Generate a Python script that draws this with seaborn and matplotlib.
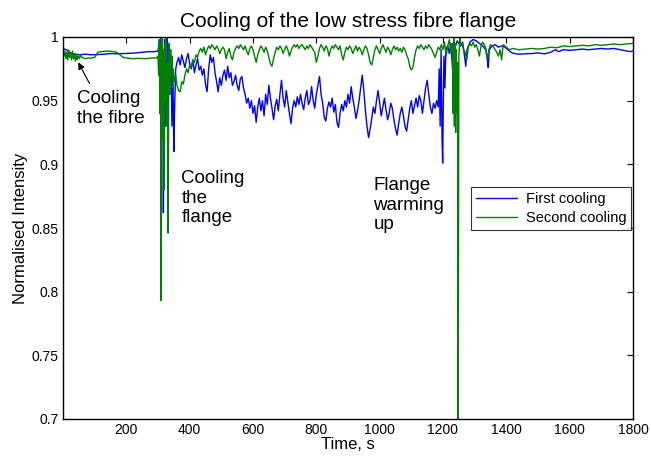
import numpy as np
import pandas as pd
import matplotlib
matplotlib.use("Agg")
import matplotlib.pyplot as plt
import seaborn as sns

# ---------------- data: (time s, normalised intensity) ----------------
first_cooling = [
    (0, 0.991), (10, 0.990), (20, 0.988), (30, 0.987), (50, 0.986), (70, 0.9865), (90, 0.986),
    (110, 0.9862), (130, 0.9865), (150, 0.987), (170, 0.9868), (190, 0.987), (210, 0.9872),
    (230, 0.9875), (250, 0.988), (270, 0.9885), (290, 0.9885), (300, 0.989),
    (303, 0.995), (306, 0.975), (309, 0.999), (312, 0.950), (315, 0.990), (317, 0.862), (319, 0.970),
    (321, 0.998), (323, 0.930), (325, 0.990), (327, 0.960), (329, 0.999), (332, 0.975), (335, 0.995),
    (338, 0.960), (341, 0.985), (344, 0.930), (347, 0.975), (350, 0.910), (352, 0.940), (356, 0.975),
    (360, 0.980), (365, 0.984), (370, 0.978), (375, 0.986), (380, 0.981), (385, 0.976), (390, 0.983),
    (395, 0.987), (400, 0.979), (405, 0.975), (410, 0.982), (415, 0.972), (420, 0.978), (425, 0.983),
    (430, 0.974), (435, 0.977), (440, 0.970), (445, 0.975), (450, 0.963), (455, 0.957),
    (460, 0.975), (465, 0.986), (470, 0.980), (475, 0.984), (480, 0.972), (485, 0.965), (490, 0.957),
    (495, 0.968), (500, 0.962), (505, 0.970), (510, 0.974), (515, 0.966), (520, 0.977), (525, 0.968),
    (530, 0.972), (535, 0.962), (540, 0.965), (545, 0.970), (550, 0.962), (555, 0.958),
    (560, 0.967), (565, 0.969), (570, 0.960), (575, 0.955), (580, 0.948), (585, 0.952), (590, 0.944),
    (595, 0.950), (600, 0.940), (605, 0.946), (610, 0.933), (615, 0.945), (620, 0.952), (625, 0.942),
    (630, 0.950), (635, 0.938), (640, 0.955), (645, 0.947), (650, 0.962), (655, 0.952),
    (660, 0.944), (665, 0.935), (670, 0.946), (675, 0.951), (680, 0.942), (685, 0.955), (690, 0.966),
    (695, 0.952), (700, 0.945), (705, 0.958), (710, 0.949), (715, 0.940), (720, 0.932), (725, 0.944),
    (730, 0.950), (735, 0.945), (740, 0.953), (745, 0.947), (750, 0.955), (755, 0.948),
    (760, 0.943), (765, 0.952), (770, 0.958), (775, 0.947), (780, 0.950), (785, 0.961), (790, 0.950),
    (795, 0.944), (800, 0.955), (805, 0.962), (810, 0.969), (815, 0.955), (820, 0.948), (825, 0.937),
    (830, 0.934), (835, 0.944), (840, 0.949), (845, 0.945), (850, 0.952), (855, 0.941),
    (860, 0.947), (865, 0.933), (870, 0.929), (875, 0.940), (880, 0.947), (885, 0.942), (890, 0.950),
    (895, 0.945), (900, 0.955), (905, 0.948), (910, 0.961), (915, 0.952), (920, 0.945), (925, 0.936),
    (930, 0.942), (935, 0.950), (940, 0.960), (945, 0.970), (950, 0.958), (955, 0.942),
    (960, 0.930), (965, 0.921), (970, 0.928), (975, 0.936), (980, 0.945), (985, 0.940), (990, 0.950),
    (995, 0.958), (1000, 0.948), (1005, 0.938), (1010, 0.945), (1015, 0.952), (1020, 0.943),
    (1025, 0.935), (1030, 0.940), (1035, 0.948), (1040, 0.944), (1045, 0.935),
    (1050, 0.928), (1055, 0.923), (1060, 0.932), (1065, 0.940), (1070, 0.945), (1075, 0.938),
    (1080, 0.930), (1085, 0.926), (1090, 0.935), (1095, 0.944), (1100, 0.950), (1105, 0.940),
    (1110, 0.946), (1115, 0.952), (1120, 0.945), (1125, 0.954), (1130, 0.950),
    (1135, 0.940), (1140, 0.950), (1145, 0.960), (1150, 0.966), (1155, 0.955), (1160, 0.945),
    (1165, 0.940), (1170, 0.948), (1175, 0.944), (1180, 0.950), (1185, 0.945), (1188, 0.975),
    (1191, 0.930), (1194, 0.990), (1197, 0.920), (1199, 0.901), (1201, 0.950),
    (1203, 0.985), (1206, 0.960), (1209, 0.990), (1215, 0.993), (1220, 0.987), (1225, 0.995),
    (1230, 0.975), (1233, 0.969), (1236, 0.990), (1245, 0.997), (1255, 0.993), (1262, 0.996),
    (1268, 0.985), (1272, 0.977), (1276, 0.990), (1285, 0.996), (1295, 0.998),
    (1305, 0.997), (1315, 0.995), (1325, 0.993), (1335, 0.990), (1340, 0.982), (1343, 0.976),
    (1346, 0.990), (1355, 0.993), (1365, 0.994), (1375, 0.992), (1385, 0.993), (1395, 0.992),
    (1405, 0.990), (1415, 0.988), (1425, 0.987), (1440, 0.9865), (1460, 0.9868),
    (1480, 0.987), (1500, 0.9875), (1520, 0.9868), (1540, 0.988), (1555, 0.990), (1565, 0.9885),
    (1580, 0.990), (1600, 0.9895), (1620, 0.990), (1640, 0.9905), (1660, 0.990), (1680, 0.9905),
    (1700, 0.991), (1720, 0.9905), (1740, 0.991), (1760, 0.990), (1780, 0.989),
    (1790, 0.9885), (1800, 0.989),
]

second_cooling = [
    (0, 0.990), (3, 0.985), (6, 0.989), (9, 0.983), (12, 0.988), (15, 0.982), (18, 0.990),
    (21, 0.984), (24, 0.988), (27, 0.982), (30, 0.989), (33, 0.983), (36, 0.987), (39, 0.981),
    (42, 0.986), (45, 0.982), (48, 0.985), (52, 0.983), (56, 0.986), (60, 0.984),
    (70, 0.983), (80, 0.9835), (90, 0.9835), (100, 0.984), (105, 0.986), (110, 0.988), (120, 0.9885),
    (140, 0.989), (160, 0.9885), (170, 0.988), (180, 0.986), (190, 0.984), (200, 0.9835),
    (220, 0.983), (240, 0.9832), (260, 0.983), (280, 0.9835), (295, 0.9835),
    (300, 0.985), (302, 0.970), (304, 0.998), (306, 0.940), (308, 0.995), (310, 0.793), (312, 0.970),
    (314, 1.000), (316, 0.920), (318, 0.990), (320, 0.880), (322, 0.995), (324, 0.950), (326, 0.999),
    (328, 0.930), (330, 0.980), (332, 0.846), (334, 0.970), (336, 0.995), (338, 0.955),
    (340, 0.990), (342, 0.970), (344, 0.985), (346, 0.960), (348, 0.975), (352, 0.965), (356, 0.970),
    (360, 0.962), (365, 0.958), (370, 0.957), (375, 0.965), (380, 0.963), (385, 0.970), (390, 0.975),
    (395, 0.972), (400, 0.978), (405, 0.976), (410, 0.982), (415, 0.980), (420, 0.986), (425, 0.984),
    (430, 0.989), (435, 0.991), (440, 0.988), (445, 0.992), (450, 0.986), (455, 0.990),
    (460, 0.993), (465, 0.991), (470, 0.994), (475, 0.992), (480, 0.990), (485, 0.993), (490, 0.991),
    (495, 0.987), (500, 0.990), (505, 0.992), (510, 0.990), (515, 0.983), (520, 0.988), (525, 0.991),
    (530, 0.985), (535, 0.982), (540, 0.988), (545, 0.991), (550, 0.993), (555, 0.991),
    (560, 0.994), (565, 0.992), (570, 0.990), (575, 0.993), (580, 0.989), (585, 0.986), (590, 0.991),
    (595, 0.993), (600, 0.990), (605, 0.985), (610, 0.980), (615, 0.986), (620, 0.990), (625, 0.993),
    (630, 0.991), (635, 0.988), (640, 0.992), (645, 0.989), (650, 0.984), (655, 0.979),
    (660, 0.977), (665, 0.983), (670, 0.988), (675, 0.992), (680, 0.990), (685, 0.993), (690, 0.991),
    (695, 0.987), (700, 0.990), (705, 0.993), (710, 0.990), (715, 0.985), (720, 0.989), (725, 0.992),
    (730, 0.994), (735, 0.992), (740, 0.994), (745, 0.991), (750, 0.993), (755, 0.994),
    (760, 0.992), (765, 0.990), (770, 0.993), (775, 0.991), (780, 0.994), (785, 0.992), (790, 0.990),
    (795, 0.988), (800, 0.980), (805, 0.985), (810, 0.991), (815, 0.994), (820, 0.992), (825, 0.989),
    (830, 0.993), (835, 0.991), (840, 0.985), (845, 0.990), (850, 0.993), (855, 0.991),
    (860, 0.994), (865, 0.992), (870, 0.990), (875, 0.993), (880, 0.986), (885, 0.982), (890, 0.988),
    (895, 0.992), (900, 0.990), (905, 0.993), (910, 0.991), (915, 0.987), (920, 0.990), (925, 0.993),
    (930, 0.989), (935, 0.992), (940, 0.990), (945, 0.986), (950, 0.990), (955, 0.993),
    (960, 0.991), (965, 0.986), (970, 0.980), (975, 0.978), (980, 0.984), (985, 0.990), (990, 0.993),
    (995, 0.990), (1000, 0.987), (1005, 0.991), (1010, 0.994), (1015, 0.991), (1020, 0.988),
    (1025, 0.992), (1030, 0.990), (1035, 0.986), (1040, 0.990), (1045, 0.993),
    (1050, 0.990), (1055, 0.992), (1060, 0.989), (1065, 0.991), (1070, 0.988), (1075, 0.992),
    (1080, 0.990), (1085, 0.986), (1090, 0.983), (1095, 0.977), (1100, 0.974), (1105, 0.976),
    (1110, 0.984), (1115, 0.990), (1120, 0.993), (1125, 0.991), (1130, 0.994),
    (1135, 0.992), (1140, 0.990), (1145, 0.993), (1150, 0.991), (1155, 0.994), (1160, 0.992),
    (1165, 0.990), (1170, 0.987), (1175, 0.984), (1180, 0.988), (1185, 0.992), (1190, 0.990),
    (1195, 0.994), (1200, 0.990), (1205, 0.996), (1210, 0.985), (1215, 0.993),
    (1220, 0.998), (1225, 0.988), (1230, 0.995), (1232, 0.940), (1234, 0.999), (1236, 0.930),
    (1238, 0.995), (1240, 0.925), (1242, 0.990), (1244, 0.940), (1246, 0.980), (1248, 0.690),
    (1250, 0.985), (1253, 0.999), (1256, 0.993), (1260, 0.995), (1265, 0.990),
    (1270, 0.988), (1275, 0.982), (1280, 0.992), (1285, 0.995), (1290, 0.993), (1295, 0.996),
    (1300, 0.992), (1305, 0.994), (1310, 0.990), (1315, 0.985), (1320, 0.993), (1325, 0.996),
    (1330, 0.994), (1335, 0.991), (1340, 0.983), (1345, 0.990), (1350, 0.994),
    (1360, 0.992), (1370, 0.988), (1375, 0.985), (1380, 0.990), (1385, 0.982), (1390, 0.994),
    (1400, 0.992), (1410, 0.990), (1420, 0.991), (1440, 0.990), (1460, 0.9905), (1480, 0.991),
    (1500, 0.9905), (1520, 0.991), (1540, 0.992), (1560, 0.9915), (1580, 0.993),
    (1600, 0.9925), (1620, 0.993), (1640, 0.9935), (1660, 0.993), (1680, 0.994), (1700, 0.9935),
    (1720, 0.994), (1740, 0.9945), (1760, 0.994), (1780, 0.9945), (1800, 0.995),
]

series_names = ["First cooling", "Second cooling"]
series_colors = ["#0000ff", "#008000"]
x_ticks = [200, 400, 600, 800, 1000, 1200, 1400, 1600, 1800]
y_ticks = [0.7, 0.75, 0.8, 0.85, 0.9, 0.95, 1.0]
y_tick_labels = ["0.7", "0.75", "0.8", "0.85", "0.9", "0.95", "1"]

# ---------------- figure ----------------
sns.set_style("white")
plt.rcParams["font.family"] = ["Liberation Sans", "DejaVu Sans"]
plt.rcParams["text.color"] = "black"
plt.rcParams["axes.labelcolor"] = "black"
plt.rcParams["xtick.color"] = "black"
plt.rcParams["ytick.color"] = "black"

frames = []
for name, pts in zip(series_names, [first_cooling, second_cooling]):
    t, v = zip(*pts)
    frames.append(pd.DataFrame({"t": t, "v": v, "series": name}))
df = pd.concat(frames, ignore_index=True)

fig = plt.figure(figsize=(6.51, 4.57), dpi=100)
ax = fig.add_axes([63 / 651, 38 / 457, 570 / 651, 382 / 457])

sns.lineplot(data=df, x="t", y="v", hue="series", palette=series_colors, estimator=None,
             sort=False, linewidth=1.0, ax=ax, legend=False)

ax.set_xlim(0, 1800)
ax.set_ylim(0.7, 1.0)
ax.set_xticks(x_ticks)
ax.set_xticklabels([str(x) for x in x_ticks])
ax.set_yticks(y_ticks)
ax.set_yticklabels(y_tick_labels)
ax.tick_params(axis="both", which="both", direction="in", length=4, width=0.8,
               top=True, right=True, labelsize=10, colors="black", pad=3)
for sp in ax.spines.values():
    sp.set_visible(True)
    sp.set_color("black")
    sp.set_linewidth(1.0)

ax.set_title("Cooling of the low stress fibre flange", fontsize=15, pad=7, color="black")
ax.set_xlabel("Time, s", fontsize=12, labelpad=0)
ax.set_ylabel("Normalised Intensity", fontsize=12, labelpad=3)

ax.text(44, 0.9584, "Cooling\nthe fibre", fontsize=13.5, va="top", ha="left", color="black")
ax.text(374, 0.8956, "Cooling\nthe\nflange", fontsize=13.5, va="top", ha="left", color="black")
ax.text(980, 0.890, "Flange\nwarming\nup", fontsize=13.5, va="top", ha="left", color="black")
ax.annotate("", xy=(44, 0.982), xytext=(88, 0.9615),
            arrowprops=dict(arrowstyle="-|>", color="black", lw=0.8, mutation_scale=10))

handles = [plt.Line2D([], [], color=c, lw=1.0) for c in series_colors]
leg = ax.legend(handles, series_names, loc="upper right", bbox_to_anchor=(0.997, 0.607),
                fontsize=10.5, frameon=True, fancybox=False, edgecolor="black",
                handlelength=2.8, borderpad=0.35, labelspacing=0.3, handletextpad=0.6,
                borderaxespad=0.0)
leg.get_frame().set_linewidth(0.8)
for txt in leg.get_texts():
    txt.set_color("black")

fig.savefig("out.png", dpi=100)
